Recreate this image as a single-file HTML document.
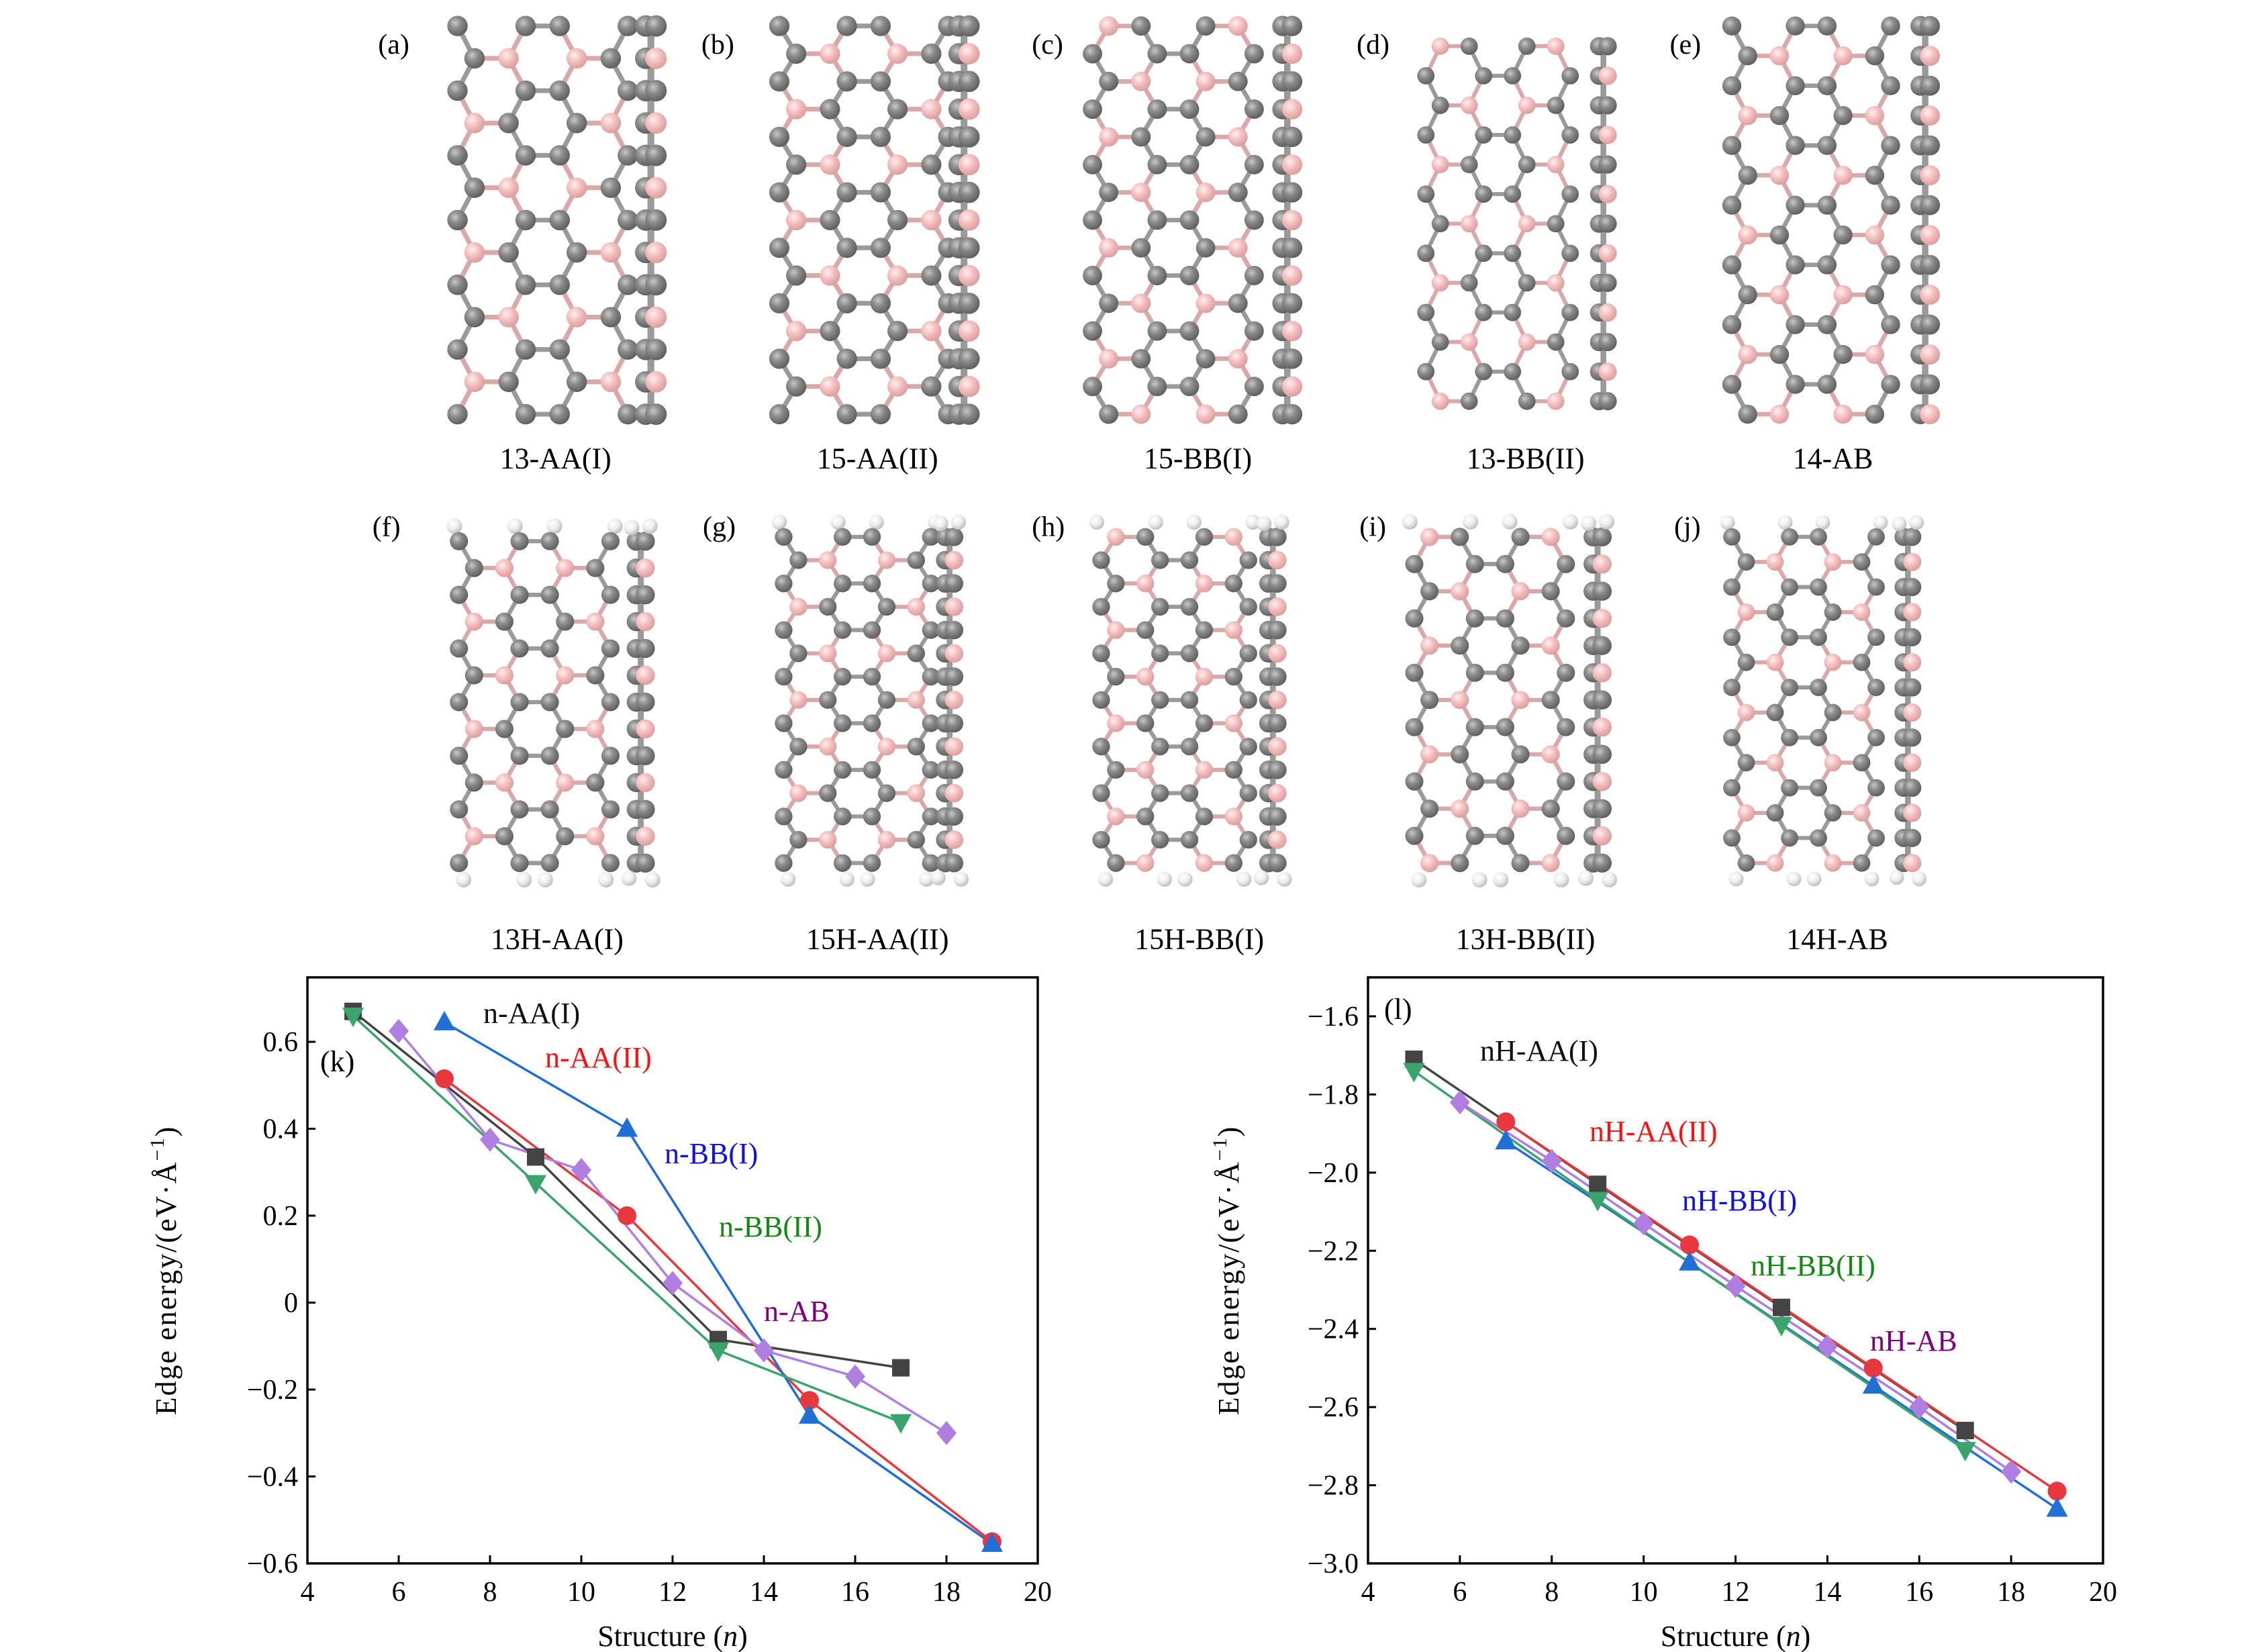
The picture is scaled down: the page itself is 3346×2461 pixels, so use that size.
<!DOCTYPE html>
<html><head><meta charset="utf-8"><style>
html,body{margin:0;padding:0;background:#fff}
svg{display:block}
text{font-family:"Liberation Serif",serif}
</style></head><body>
<svg id="fig" width="3346" height="2461" viewBox="0 0 3346 2461" xmlns="http://www.w3.org/2000/svg">
<defs>
<radialGradient id="gC" cx="0.38" cy="0.35" r="0.7"><stop offset="0" stop-color="#c8c8c8"/><stop offset="0.4" stop-color="#8c8c8c"/><stop offset="1" stop-color="#5a5a5a"/></radialGradient>
<radialGradient id="gB" cx="0.38" cy="0.35" r="0.7"><stop offset="0" stop-color="#fff0f0"/><stop offset="0.45" stop-color="#f5c0c0"/><stop offset="1" stop-color="#d89a9a"/></radialGradient>
<radialGradient id="gH" cx="0.38" cy="0.35" r="0.7"><stop offset="0" stop-color="#ffffff"/><stop offset="0.5" stop-color="#eeeeee"/><stop offset="1" stop-color="#b8b8b8"/></radialGradient>
</defs>
<g id="mol"></g>
<g id="chartK"></g>
<g id="chartL"></g>
</svg>
<script>
// ---------- chart data ----------
var xTicks = [4,6,8,10,12,14,16,18,20];
var kYTicks = [-0.6,-0.4,-0.2,0,0.2,0.4,0.6];
var kYTickLabels = ["\u22120.6","\u22120.4","\u22120.2","0","0.2","0.4","0.6"];
var lYTicks = [-3.0,-2.8,-2.6,-2.4,-2.2,-2.0,-1.8,-1.6];
var lYTickLabels = ["\u22123.0","\u22122.8","\u22122.6","\u22122.4","\u22122.2","\u22122.0","\u22121.8","\u22121.6"];

var kAA1_x = [5,9,13,17];       var kAA1_y = [0.67,0.335,-0.085,-0.15];
var kAA2_x = [7,11,15,19];      var kAA2_y = [0.515,0.20,-0.225,-0.55];
var kBB1_x = [7,11,15,19];      var kBB1_y = [0.645,0.40,-0.26,-0.555];
var kBB2_x = [5,9,13,17];       var kBB2_y = [0.66,0.275,-0.11,-0.275];
var kAB_x  = [6,8,10,12,14,16,18]; var kAB_y = [0.625,0.375,0.305,0.045,-0.11,-0.17,-0.30];

var lAA1_x = [5,9,13,17];       var lAA1_y = [-1.71,-2.03,-2.345,-2.66];
var lAA2_x = [7,11,15,19];      var lAA2_y = [-1.87,-2.185,-2.50,-2.815];
var lBB1_x = [7,11,15,19];      var lBB1_y = [-1.92,-2.23,-2.545,-2.86];
var lBB2_x = [5,9,13,17];       var lBB2_y = [-1.74,-2.07,-2.39,-2.71];
var lAB_x  = [6,8,10,12,14,16,18]; var lAB_y = [-1.82,-1.97,-2.13,-2.29,-2.445,-2.60,-2.765];

var kSeriesLabels = ["n-AA(I)","n-AA(II)","n-BB(I)","n-BB(II)","n-AB"];
var lSeriesLabels = ["nH-AA(I)","nH-AA(II)","nH-BB(I)","nH-BB(II)","nH-AB"];

var NS = "http://www.w3.org/2000/svg";
function mk(tag, attrs, parent){
  var e = document.createElementNS(NS, tag);
  for (var k in attrs) e.setAttribute(k, attrs[k]);
  parent.appendChild(e); return e;
}
var lineCol = ["#444444","#e8383d","#1f6fd6","#3aa56b","#b07ee0"];
var txtCol  = ["#111111","#ff1010","#1010ee","#108a10","#800080"];
var marker = ["square","circle","up","down","diamond"];

function drawMarker(g, type, x, y, col){
  var m;
  if (type==="square") m = mk("rect",{x:x-13,y:y-13,width:26,height:26,fill:col},g);
  else if (type==="circle") m = mk("circle",{cx:x,cy:y,r:14,fill:col},g);
  else if (type==="up") m = mk("polygon",{points:(x)+","+(y-17)+" "+(x-16)+","+(y+12)+" "+(x+16)+","+(y+12),fill:col},g);
  else if (type==="down") m = mk("polygon",{points:(x)+","+(y+17)+" "+(x-16)+","+(y-12)+" "+(x+16)+","+(y-12),fill:col},g);
  else m = mk("polygon",{points:x+","+(y-18)+" "+(x+15)+","+y+" "+x+","+(y+18)+" "+(x-15)+","+y,fill:col},g);
  
  
}

function drawChart(g, opt){
  var X0=opt.x0, X1=opt.x1, top=opt.top, bot=opt.bot;
  function sx(v){ return X0 + (v-4)/(20-4)*(X1-X0); }
  function sy(v){ return opt.yA + (v-opt.vA)/(opt.vB-opt.vA)*(opt.yB-opt.yA); }
  var fr = mk("rect",{x:X0,y:top,width:X1-X0,height:bot-top,fill:"none",stroke:"#000","stroke-width":3.5},g);
  
  
  xTicks.forEach(function(t){
    var x=sx(t);
    mk("line",{x1:x,y1:bot,x2:x,y2:bot-12,stroke:"#000","stroke-width":3},g);
    var tl = mk("text",{x:x,y:bot+56,"font-size":42,"text-anchor":"middle",fill:"#000"},g);
    tl.textContent = t;
    
    
  });
  opt.yt.forEach(function(t,i){
    var y=sy(t);
    mk("line",{x1:X0,y1:y,x2:X0+12,y2:y,stroke:"#000","stroke-width":3},g);
    var tl = mk("text",{x:X0-14,y:y+14,"font-size":42,"text-anchor":"end",fill:"#000"},g);
    tl.textContent = opt.ytl[i];
    
    
  });
  var xt = mk("text",{x:(X0+X1)/2,y:2452,"font-size":44,"text-anchor":"middle",fill:"#000"},g);
  xt.innerHTML = 'Structure (<tspan font-style="italic">n</tspan>)';
  
  
  var yt = mk("text",{x:0,y:0,"font-size":44,"text-anchor":"middle",fill:"#000",transform:"translate("+(opt.ylabX)+","+((top+bot)/2)+") rotate(-90)","letter-spacing":"2"},g);
  yt.innerHTML = 'Edge energy/(eV\u00b7\u00c5<tspan font-size="30" dy="-18">\u22121</tspan><tspan dy="18">)</tspan>';
  
  
  opt.series.forEach(function(s,i){
    var pts = s[0].map(function(v,j){ return sx(v)+","+sy(s[1][j]); }).join(" ");
    var pl = mk("polyline",{points:pts,fill:"none",stroke:lineCol[i],"stroke-width":3.5},g);
    
    
  });
  opt.series.forEach(function(s,i){
    s[0].forEach(function(v,j){ drawMarker(g, marker[i], sx(v), sy(s[1][j]), lineCol[i]); });
  });
  opt.labels.forEach(function(L,i){
    var t = mk("text",{x:L[0],y:L[1],"font-size":44,fill:txtCol[i]},g);
    t.textContent = opt.names[i];
    
    
  });
  var p = mk("text",{x:opt.panel[0],y:opt.panel[1],"font-size":44,fill:"#000"},g);
  p.textContent = opt.panel[2];
  
  
}

drawChart(document.getElementById("chartK"),{
  x0:458,x1:1546,top:1456,bot:2329,yA:1552,vA:0.6,yB:2329,vB:-0.6,
  yt:kYTicks,ytl:kYTickLabels,ylabX:262,
  series:[[kAA1_x,kAA1_y],[kAA2_x,kAA2_y],[kBB1_x,kBB1_y],[kBB2_x,kBB2_y],[kAB_x,kAB_y]],
  names:kSeriesLabels,
  labels:[[720,1524],[812,1590],[990,1733],[1071,1842],[1138,1968]],
  panel:[477,1596,"(k)"]
});
drawChart(document.getElementById("chartL"),{
  x0:2038,x1:3133,top:1456,bot:2329,yA:1514,vA:-1.6,yB:2329,vB:-3.0,
  yt:lYTicks,ylabX:1845,ytl:lYTickLabels,
  series:[[lAA1_x,lAA1_y],[lAA2_x,lAA2_y],[lBB1_x,lBB1_y],[lBB2_x,lBB2_y],[lAB_x,lAB_y]],
  names:lSeriesLabels,
  labels:[[2205,1580],[2368,1700],[2506,1803],[2608,1900],[2786,2012]],
  panel:[2062,1518,"(l)"]
});

// ---------- molecule panels (thumbnail coords * 2.15) ----------
var S = 2.15;
var panels = [
 {L:"(a)",lx:262,ly:28,name:"13-AA(I)",nx:385,ny:318,f:[317,435,18,287],sd:451,H:false,n:13,bb:false},
 {L:"(b)",lx:486,ly:28,name:"15-AA(II)",nx:608,ny:318,f:[540,657,18,287],sd:668,H:false,n:15,bb:false},
 {L:"(c)",lx:715,ly:28,name:"15-BB(I)",nx:830,ny:318,f:[757,869,18,287],sd:892,H:false,n:15,bb:true},
 {L:"(d)",lx:940,ly:28,name:"13-BB(II)",nx:1057,ny:318,f:[988,1088,32,278],sd:1111,H:false,n:13,bb:true},
 {L:"(e)",lx:1157,ly:28,name:"14-AB",nx:1270,ny:318,f:[1200,1310,18,287],sd:1334,H:false,n:14,bb:false},
 {L:"(f)",lx:258,ly:362,name:"13H-AA(I)",nx:386,ny:651,f:[318,423,375,598],sd:444,H:true,n:13,bb:false},
 {L:"(g)",lx:487,ly:362,name:"15H-AA(II)",nx:608,ny:651,f:[543,645,372,598],sd:658,H:true,n:15,bb:false},
 {L:"(h)",lx:715,ly:362,name:"15H-BB(I)",nx:831,ny:651,f:[763,865,372,598],sd:882,H:true,n:15,bb:true},
 {L:"(i)",lx:942,ly:362,name:"13H-BB(II)",nx:1057,ny:651,f:[980,1085,372,598],sd:1107,H:true,n:13,bb:true},
 {L:"(j)",lx:1160,ly:362,name:"14H-AB",nx:1273,ny:651,f:[1200,1300,372,598],sd:1322,H:true,n:14,bb:false}
];
var molG = document.getElementById("mol");
panels.forEach(function(p,pi){
  var g = mk("g",{},molG);
  
  
  var x0=p.f[0]*S, x1=p.f[1]*S, y0=p.f[2]*S, y1=p.f[3]*S;
  var a=(x1-x0)/5;
  var nRows=p.n, hStep=(y1-y0)/(nRows-1);
  var r=a*0.3;
  var atoms=[];
  for(var j=0;j<nRows;j++){
    var isB = p.bb ? (j%2===1) : (j%2===0);
    var xs = isB?[0,2,3,5]:[0.5,1.5,3.5,4.5];
    xs.forEach(function(xx,idx){
      var pink;
      if (!p.bb) pink = (!isB && j%4===1 && (idx===1||idx===2)) || (!isB && j%4===3 && (idx===0||idx===3));
      else pink = (!isB && j%4===0 && (idx===0||idx===3)) || (!isB && j%4===2 && (idx===1||idx===2));
      atoms.push({x:x0+xx*a,y:y0+j*hStep,pink:pink});
    });
  }
  for(var i=0;i<atoms.length;i++)for(var k=i+1;k<atoms.length;k++){
    var dx=atoms[i].x-atoms[k].x, dy=atoms[i].y-atoms[k].y;
    var isH = Math.abs(dy)<1 && Math.abs(Math.abs(dx)-a)<1;
    var isD = Math.abs(Math.abs(dy)-hStep)<1 && Math.abs(Math.abs(dx)-0.5*a)<1;
    if(isH||isD){
      mk("line",{x1:atoms[i].x,y1:atoms[i].y,x2:atoms[k].x,y2:atoms[k].y,stroke:(atoms[i].pink||atoms[k].pink)?"#d9a8a8":"#9a9a9a","stroke-width":a*0.14},g);
    }
  }
  if(p.H){
    [0,2,3,5].forEach(function(xx){
      mk("circle",{cx:x0+xx*a+(xx<2.5?-0.15*a:0.15*a),cy:y0-0.5*a,r:r*0.85,fill:"url(#gH)"},g);
      mk("circle",{cx:x0+xx*a+(xx<2.5?0.15*a:-0.15*a),cy:y1+0.55*a,r:r*0.85,fill:"url(#gH)"},g);
    });
  }
  atoms.forEach(function(at){
    mk("circle",{cx:at.x,cy:at.y,r:r,fill:at.pink?"url(#gB)":"url(#gC)"},g);
  });
  // side view
  var sx0=p.sd*S;
  mk("line",{x1:sx0,y1:y0,x2:sx0,y2:y1,stroke:"#9a9a9a","stroke-width":a*0.2},g);
  for(var j2=0;j2<nRows;j2++){
    var yy=y0+j2*hStep;
    mk("circle",{cx:sx0-r*0.5,cy:yy,r:r*1.05,fill:"url(#gC)"},g);
    mk("circle",{cx:sx0+r*0.5,cy:yy,r:r*1.05,fill:(j2%2===1)?"url(#gB)":"url(#gC)"},g);
  }
  if(p.H){
    mk("circle",{cx:sx0-r,cy:y0-0.45*a,r:r*0.85,fill:"url(#gH)"},g);
    mk("circle",{cx:sx0+r,cy:y0-0.5*a,r:r*0.85,fill:"url(#gH)"},g);
    mk("circle",{cx:sx0-r*1.3,cy:y1+0.5*a,r:r*0.85,fill:"url(#gH)"},g);
    mk("circle",{cx:sx0+r*1.3,cy:y1+0.55*a,r:r*0.85,fill:"url(#gH)"},g);
  }
  var lt = mk("text",{x:p.lx*S,y:p.ly*S+20,"font-size":42,fill:"#000"},g);
  lt.textContent = p.L;
  
  
  var nt = mk("text",{x:p.nx*S,y:p.ny*S+14,"font-size":44,"text-anchor":"middle",fill:"#000"},g);
  nt.textContent = p.name;
  
  
});
</script>
</body></html>
